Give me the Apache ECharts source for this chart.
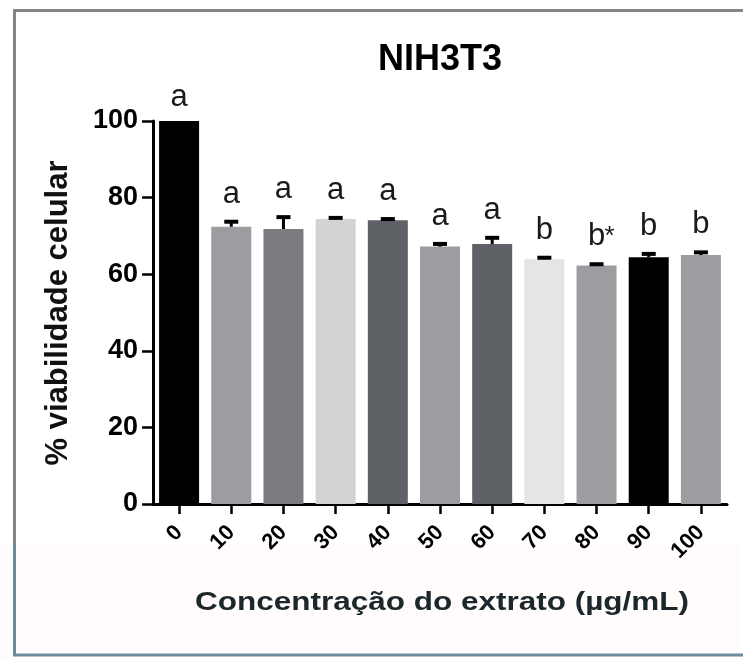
<!DOCTYPE html>
<html>
<head>
<meta charset="utf-8">
<script src="https://cdn.jsdelivr.net/npm/echarts@6/dist/echarts.min.js"></script>
<style>
  html, body { margin: 0; padding: 0; background: #ffffff; }
  #chart { width: 743px; height: 659px; }
</style>
</head>
<body>
<div id="chart"></div>
<script>
// Extract concentration (µg/mL) for each group
const categories = ['0', '10', '20', '30', '40', '50', '60', '70', '80', '90', '100'];
// Mean cell viability (%)
const viability = [100, 72.4, 71.8, 74.4, 74.1, 67.2, 67.9, 63.9, 62.3, 64.4, 65.0];
// Upper error (SD)
const sdUpper = [0, 1.3, 3.1, 0.3, 0.3, 0.7, 1.6, 0.4, 0.3, 0.9, 0.7];
// Statistical group letters shown above each bar
const groupLetters = ['a', 'a', 'a', 'a', 'a', 'a', 'a', 'b', 'b*', 'b', 'b'];
// Fill shade of each bar
const barColors = ['#000000', '#9c9da1', '#7b7c80', '#d2d3d2', '#5e6165', '#9c9da1',
                   '#5e6165', '#e5e5e3', '#9c9da1', '#000000', '#9c9da1'];
const yMin = 0, yMax = 100, yStep = 20;

const FONT = '"Liberation Sans", Arial, Helvetica, sans-serif';

const chart = echarts.init(document.getElementById('chart'), null, { renderer: 'canvas' });

const option = {
  backgroundColor: '#ffffff',
  animation: false,
  grid: { left: 153, top: 121, width: 574, height: 383, containLabel: false },
  xAxis: {
    type: 'category',
    data: categories,
    axisLine: { show: true, lineStyle: { color: '#000', width: 3 } },
    axisTick: { show: true, alignWithLabel: true, length: 10, lineStyle: { color: '#000', width: 2.5 } },
    axisLabel: { rotate: 45, margin: 25, color: '#000', fontSize: 22, fontWeight: 'bold', fontFamily: FONT }
  },
  yAxis: {
    type: 'value',
    min: yMin, max: yMax, interval: yStep,
    splitLine: { show: false },
    axisLine: { show: true, lineStyle: { color: '#000', width: 3 } },
    axisTick: { show: true, length: 11, lineStyle: { color: '#000', width: 2.5 } },
    axisLabel: { margin: 15, color: '#000', fontSize: 27, fontWeight: 'bold', fontFamily: FONT }
  },
  series: [
    {
      type: 'bar',
      barWidth: 40,
      data: viability.map((v, i) => ({ value: v, itemStyle: { color: barColors[i] } })),
      z: 2
    },
    {
      type: 'custom',
      z: 5,
      data: viability.map((v, i) => [i, v, sdUpper[i]]),
      renderItem: function (params, api) {
        const i = api.value(0);
        const v = api.value(1);
        const e = api.value(2);
        const base = api.coord([i, v]);
        const top = api.coord([i, v + e]);
        const children = [];
        if (e > 0) {
          children.push({
            type: 'line',
            shape: { x1: base[0], y1: base[1], x2: top[0], y2: top[1] },
            style: { stroke: '#000', lineWidth: 3 }
          });
          children.push({
            type: 'line',
            shape: { x1: top[0] - 7, y1: top[1], x2: top[0] + 7, y2: top[1] },
            style: { stroke: '#000', lineWidth: 4 }
          });
        }
        const label = groupLetters[i];
        const main = label.charAt(0);
        const extra = label.slice(1);
        const ty = top[1] - (e > 0 ? 12 : 8);
        children.push({
          type: 'text',
          style: {
            text: main, x: top[0], y: ty,
            align: 'center', verticalAlign: 'bottom',
            font: '31px ' + FONT, fill: '#1a1a1a'
          }
        });
        if (extra) {
          children.push({
            type: 'text',
            style: {
              text: extra, x: top[0] + 8, y: ty - 2,
              align: 'left', verticalAlign: 'bottom',
              font: '26px ' + FONT, fill: '#1a1a1a'
            }
          });
        }
        return { type: 'group', children: children };
      }
    }
  ],
  graphic: [
    // lower strip behind the axis title
    { type: 'rect', z: -10, shape: { x: 0, y: 544, width: 740, height: 115 }, style: { fill: '#fffcfb' } },
    // outer frame
    { type: 'line', z: 10, shape: { x1: 13, y1: 10.5, x2: 743, y2: 10.5 }, style: { stroke: '#858585', lineWidth: 3 } },
    { type: 'line', z: 10, shape: { x1: 14.5, y1: 9, x2: 14.5, y2: 544 }, style: { stroke: '#858585', lineWidth: 3 } },
    { type: 'line', z: 10, shape: { x1: 14.5, y1: 544, x2: 14.5, y2: 656 }, style: { stroke: '#6a8d9c', lineWidth: 3 } },
    { type: 'line', z: 10, shape: { x1: 13, y1: 655, x2: 743, y2: 655 }, style: { stroke: '#6a8d9c', lineWidth: 3 } },
    // chart title
    {
      type: 'text', z: 10, x: 440, y: 60,
      style: { text: 'NIH3T3', align: 'center', verticalAlign: 'middle', font: 'bold 36px ' + FONT, fill: '#000' }
    },
    // y axis title
    {
      type: 'text', z: 10, x: 58, y: 313, rotation: Math.PI / 2,
      style: { text: '% viabilidade celular', align: 'center', verticalAlign: 'middle', font: 'bold 31px ' + FONT, fill: '#111' }
    },
    // x axis title
    {
      type: 'text', z: 10, x: 442, y: 603, scaleX: 1.26,
      style: { text: 'Concentração do extrato (µg/mL)', align: 'center', verticalAlign: 'middle', font: 'bold 25px ' + FONT, fill: '#1c272c' }
    }
  ]
};

chart.setOption(option);
</script>
</body>
</html>
